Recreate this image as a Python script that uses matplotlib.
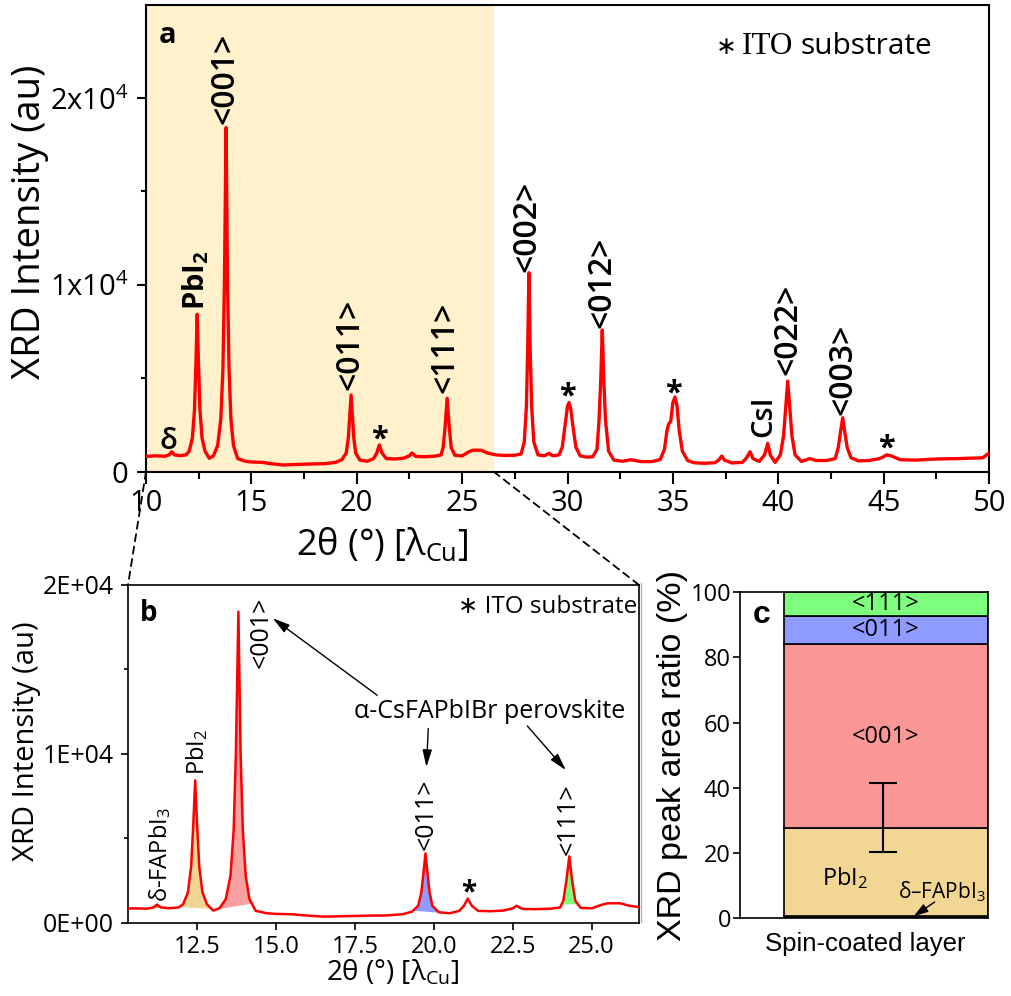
import numpy as np
import matplotlib
matplotlib.use('Agg')
import matplotlib.pyplot as plt
from matplotlib.patches import ConnectionPatch
from matplotlib.lines import Line2D

# XRD trace (2theta in degrees, intensity in counts)
two_theta = [10.0, 10.5, 10.9, 11.1, 11.22, 11.35, 11.6, 11.9,
             12.05, 12.2, 12.3, 12.37, 12.43, 12.49, 12.56, 12.66, 12.8, 13.0,
             13.2, 13.4, 13.55, 13.65, 13.72, 13.8, 13.87, 13.94, 14.03, 14.15, 14.35,
             14.7, 15.0, 15.5, 16.0, 16.5, 17.0, 17.5, 18.0, 18.5, 19.0, 19.3,
             19.5, 19.6, 19.67, 19.73, 19.79, 19.86, 19.95, 20.15, 20.5, 20.8,
             20.95, 21.07, 21.2, 21.4, 21.8, 22.2, 22.5, 22.62, 22.8, 23.2, 23.7, 24.0,
             24.1, 24.2, 24.29, 24.38, 24.48, 24.65, 25.0, 25.3, 25.5, 25.7, 25.9, 26.2, 26.6, 27.0, 27.5, 27.8,
             27.95, 28.05, 28.11, 28.17, 28.23, 28.3, 28.4, 28.6, 28.9, 29.12, 29.3, 29.6,
             29.75, 29.9, 30.0, 30.07, 30.15, 30.25, 30.4, 30.6, 30.9, 31.2, 31.4,
             31.5, 31.58, 31.65, 31.72, 31.8, 31.95, 32.2, 32.6, 33.0, 33.5, 34.0, 34.4, 34.6,
             34.72, 34.8, 34.9, 35.0, 35.1, 35.2, 35.3, 35.45, 35.7, 36.0, 36.5,
             37.0, 37.2, 37.32, 37.45, 37.8, 38.3, 38.5, 38.66, 38.8, 39.1, 39.35, 39.5, 39.62, 39.85,
             40.1, 40.25, 40.35, 40.45, 40.55, 40.65, 40.8, 41.1, 41.5, 41.8, 42.3,
             42.7, 42.85, 42.95, 43.06, 43.16, 43.27, 43.45, 43.8, 44.3,
             44.8, 45.0, 45.14, 45.35, 45.8, 46.5, 47.5, 48.5, 49.0, 49.7, 50.0]
intensity = [820, 850, 830, 900, 1070, 900, 860, 900,
             1100, 1800, 3300, 5800, 8430, 5800, 3300, 1800, 1100, 720,
             850, 1400, 2800, 5500, 10000, 18420, 10000, 5500, 2800, 1400, 700,
             560, 520, 500, 420, 360, 380, 400, 420, 430, 500, 650,
             1000, 1800, 3000, 4100, 3000, 1800, 1000, 620, 560, 700,
             1000, 1430, 1000, 700, 680, 720, 850, 1000, 820, 800, 830, 900,
             1300, 2500, 3930, 2500, 1300, 880, 850, 1050, 1150, 1150, 1150, 1000, 900, 870, 880, 950,
             1600, 3500, 6500, 10650, 6500, 3500, 1600, 900, 850, 985, 850, 900,
             1300, 2600, 3500, 3700, 3400, 2500, 1300, 850, 780, 800, 1200,
             2800, 5000, 7585, 5000, 2800, 1100, 620, 560, 640, 540, 540, 650, 1200,
             2200, 2550, 2700, 3700, 4000, 3500, 2200, 1100, 600, 480, 450,
             480, 650, 840, 620, 470, 500, 750, 1070, 700, 550, 900, 1520, 900, 500,
             900, 1900, 3400, 4850, 3400, 1900, 900, 550, 700, 600, 600,
             700, 1300, 2100, 2890, 2100, 1300, 750, 580, 600,
             700, 800, 900, 850, 640, 620, 680, 700, 720, 740, 1000]

# panel a peak labels
a_labels = ['<001>', '<011>', '<111>', '<002>', '<012>', '<022>', '<003>']
a_label_x = [13.75, 19.68, 24.18, 28.06, 31.62, 40.45, 43.06]
a_label_y = [18600, 4370, 4210, 10700, 7680, 5180, 3040]
ito_x = [21.07, 30.0, 35.02, 45.14]
ito_y = [1700, 4015, 4200, 1250]

# panel b peak labels and integrated regions
b_labels = ['<001>', '<011>', '<111>']
b_label_x = [14.51, 19.76, 24.25]
b_label_y = [15080, 4310, 4010]
fill_lo = [11.09, 11.94, 13.2, 19.35, 24.05]
fill_hi = [11.36, 12.94, 14.22, 20.25, 24.55]
fill_colors = ['#F0A050', '#F0D596', '#F9A0A0', '#8F9BFF', '#7DFF7D']

# panel c peak area ratio (%), bottom to top: d-FAPbI3, PbI2, <001>, <011>, <111>
c_values = [0.6, 27.0, 56.5, 8.4, 7.5]
c_colors = ['#8C8C78', '#F2D694', '#F99797', '#8F9BFF', '#7DFF7D']
c_err_low = 20.4
c_err_high = 41.4

plt.rcParams['font.family'] = ['Open Sans', 'DejaVu Sans']
plt.rcParams['mathtext.fontset'] = 'custom'
plt.rcParams['mathtext.rm'] = 'Open Sans'
plt.rcParams['mathtext.it'] = 'Open Sans:italic'
plt.rcParams['mathtext.bf'] = 'Open Sans:bold'

ARIAL = 'Liberation Sans'
SERIF = 'Liberation Serif'

W, H = 1011, 996
fig = plt.figure(figsize=(W / 100, H / 100), dpi=100)


def box(l, t, r, b):
    return [l / W, 1 - b / H, (r - l) / W, (b - t) / H]


axa = fig.add_axes(box(146, 4.7, 989, 471.7))
axb = fig.add_axes(box(128, 585, 639, 922.7))
axc = fig.add_axes(box(740, 592, 988, 918.3))

x = np.array(two_theta)
y = np.array(intensity)

# ---------------- panel a ----------------
axa.axvspan(10, 26.5, color='#FFF1CC', lw=0, zorder=0)
axa.plot(x, y, color='#FF0000', lw=2.4, zorder=3, solid_joinstyle='round')
axa.set_xlim(10, 50)
axa.set_ylim(0, 25000)
axa.set_xticks(np.arange(10, 51, 5))
axa.set_xticks(np.arange(12.5, 50, 5), minor=True)
axa.set_yticks([0, 10000, 20000])
axa.set_yticklabels(['0', r'1x10$^4$', r'2x10$^4$'])
axa.set_yticks([5000, 15000], minor=True)
axa.tick_params(which='both', direction='out', width=1.5, labelsize=21)
axa.tick_params(axis='x', which='major', length=8.5, pad=4)
axa.tick_params(axis='x', which='minor', length=5)
axa.tick_params(axis='y', which='major', length=6.5, pad=6)
axa.tick_params(axis='y', which='minor', length=3.5)
for s in axa.spines.values():
    s.set_linewidth(1.5)

for lab, lx, ly in zip(a_labels, a_label_x, a_label_y):
    axa.text(lx, ly, lab, rotation=90, ha='center', va='bottom', fontsize=23,
             fontweight='semibold')
for sx, sy in zip(ito_x, ito_y):
    axa.text(sx, sy, '*', ha='center', va='center', fontsize=22, fontweight='bold')
axa.text(12.37, 8660, r'PbI$_\mathbf{2}$', rotation=90, ha='center', va='bottom',
         fontsize=21, fontweight='bold')
axa.text(39.29, 1870, 'CsI', rotation=90, ha='center', va='bottom', fontsize=21,
         fontweight='semibold')
axa.text(11.06, 1630, 'δ', ha='center', va='center', fontsize=21, fontweight='semibold')
axa.text(13 / 843, 0.935, 'a', transform=axa.transAxes, ha='left', va='center',
         fontsize=21, fontweight='bold')

fig.text(726 / W, 1 - 47 / H, '∗', ha='center', va='center', fontsize=18)
fig.text(742 / W, 1 - 54 / H, 'ITO', ha='left', va='baseline', fontsize=22.5, family=SERIF)
fig.text(800 / W, 1 - 54 / H, 'substrate', ha='left', va='baseline', fontsize=21.5)

fig.text(30 / W, 1 - 222 / H, 'XRD Intensity (au)', rotation=90, ha='center',
         va='center', fontsize=27.5)
fig.text(382 / W, 1 - 545 / H, r'2θ (°) [λ$_{\rm Cu}$]', ha='center', va='center',
         fontsize=26)

# ---------------- panel b ----------------
axb.plot(x, y, color='#FF0000', lw=1.8, zorder=3)
for lo, hi, col in zip(fill_lo, fill_hi, fill_colors):
    m = (x >= lo) & (x <= hi)
    xs = np.concatenate([[lo], x[m], [hi]])
    ys = np.interp(xs, x, y)
    chord = np.interp(xs, [lo, hi], [ys[0], ys[-1]])
    axb.fill_between(xs, chord, ys, color=col, lw=0, zorder=2)
axb.set_xlim(10.3, 26.5)
axb.set_ylim(0, 20000)
axb.set_xticks([12.5, 15, 17.5, 20, 22.5, 25])
axb.set_xticklabels(['12.5', '15.0', '17.5', '20.0', '22.5', '25.0'])
axb.set_yticks([0, 10000, 20000])
axb.set_yticklabels(['0E+00', '1E+04', '2E+04'])
axb.set_yticks([5000, 15000], minor=True)
axb.tick_params(which='both', direction='out', width=1.2)
axb.tick_params(axis='x', which='major', length=5, pad=4, labelsize=17)
axb.tick_params(axis='y', which='major', length=5, pad=5, labelsize=18)
axb.tick_params(axis='y', which='minor', length=3)
for s in axb.spines.values():
    s.set_linewidth(1.2)

for lab, lx, ly in zip(b_labels, b_label_x, b_label_y):
    axb.text(lx, ly, lab, rotation=90, ha='center', va='bottom', fontsize=18)
axb.text(12.48, 8750, r'PbI$_2$', rotation=90, ha='center', va='bottom', fontsize=17)
axb.text(11.31, 1240, r'δ-FAPbI$_3$', rotation=90, ha='center', va='bottom', fontsize=17)
axb.text(21.1, 1750, '*', ha='center', va='center', fontsize=20, fontweight='bold')
axb.text(0.023, 0.917, 'b', transform=axb.transAxes, ha='left', va='center',
         fontsize=20, fontweight='bold')
axb.text(0.997, 0.935, '∗ ITO substrate', transform=axb.transAxes, ha='right',
         va='center', fontsize=17.5)
axb.text(21.78, 12480, 'α-CsFAPbIBr perovskite', ha='center', va='center',
         fontsize=18)
arrow = dict(arrowstyle='-|>,head_length=0.8,head_width=0.22', color='black', lw=1,
             mutation_scale=13, shrinkA=0, shrinkB=0)
axb.annotate('', xy=(14.89, 18030), xytext=(18.2, 13470), arrowprops=arrow)
axb.annotate('', xy=(19.76, 9220), xytext=(19.82, 11500), arrowprops=arrow)
axb.annotate('', xy=(24.18, 9040), xytext=(22.96, 11650), arrowprops=arrow)

fig.text(27 / W, 1 - 741 / H, 'XRD Intensity (au)', rotation=90, ha='center',
         va='center', fontsize=21)
fig.text(392 / W, 1 - 973 / H, r'2θ (°) [λ$_{\rm Cu}$]', ha='center', va='center',
         fontsize=20)

# ---------------- panel c ----------------
bottom = 0
for v, col in zip(c_values, c_colors):
    axc.bar(0.177, v, width=0.823, bottom=bottom, align='edge', color=col,
            edgecolor='black', lw=1.2, zorder=2)
    bottom += v
pbi2_top = c_values[0] + c_values[1]
axc.errorbar(0.578, pbi2_top, yerr=[[pbi2_top - c_err_low], [c_err_high - pbi2_top]],
             fmt='none', ecolor='black', elinewidth=1.5, capsize=10, capthick=1.5,
             zorder=4)
axc.set_xlim(0, 1)
axc.set_ylim(0, 100)
axc.set_xticks([])
axc.set_yticks(np.arange(0, 101, 20))
axc.tick_params(axis='y', direction='out', length=5, width=1.2, pad=1.5, labelsize=17)
for s in axc.spines.values():
    s.set_linewidth(1.2)

cum = np.cumsum(c_values)
mid = cum - np.array(c_values) / 2
axc.text(0.588, mid[4], '<111>', ha='center', va='center', fontsize=17)
axc.text(0.588, mid[3], '<011>', ha='center', va='center', fontsize=17)
axc.text(0.588, 55.6, '<001>', ha='center', va='center', fontsize=17)
axc.text(0.423, 12.4, r'PbI$_2$', ha='center', va='center', fontsize=17)
axc.text(0.813, 8.3, r'δ–FAPbI$_3$', ha='center', va='center', fontsize=15)
axc.annotate('', xy=(0.70, 0.6), xytext=(0.785, 5.0),
             arrowprops=dict(arrowstyle='-|>,head_length=0.8,head_width=0.25',
                             color='black', lw=1, mutation_scale=11,
                             shrinkA=0, shrinkB=0))
axc.text(0.05, 0.93, 'c', transform=axc.transAxes, ha='left', va='center',
         fontsize=23, fontweight='bold', family=ARIAL)
fig.text(865 / W, 1 - 944 / H, 'Spin-coated layer', ha='center', va='center',
         fontsize=18.5, family=ARIAL)
fig.text(672 / W, 1 - 755 / H, 'XRD peak area ratio (%)', rotation=90, ha='center',
         va='center', fontsize=24.5, family=ARIAL)

# stray separator line and zoom connectors
fig.add_artist(Line2D([641 / W, 641 / W], [1 - 583 / H, 1 - 922 / H],
                      color='#B4B4B4', lw=1))
for xa, xb in [(10, 0), (26.5, 1)]:
    con = ConnectionPatch(xyA=(xa, 0), coordsA=axa.transData, xyB=(xb, 1),
                          coordsB=axb.transAxes, ls=(0, (4, 3)), lw=1.3,
                          color='black')
    fig.add_artist(con)

fig.savefig('out.png', dpi=100)
